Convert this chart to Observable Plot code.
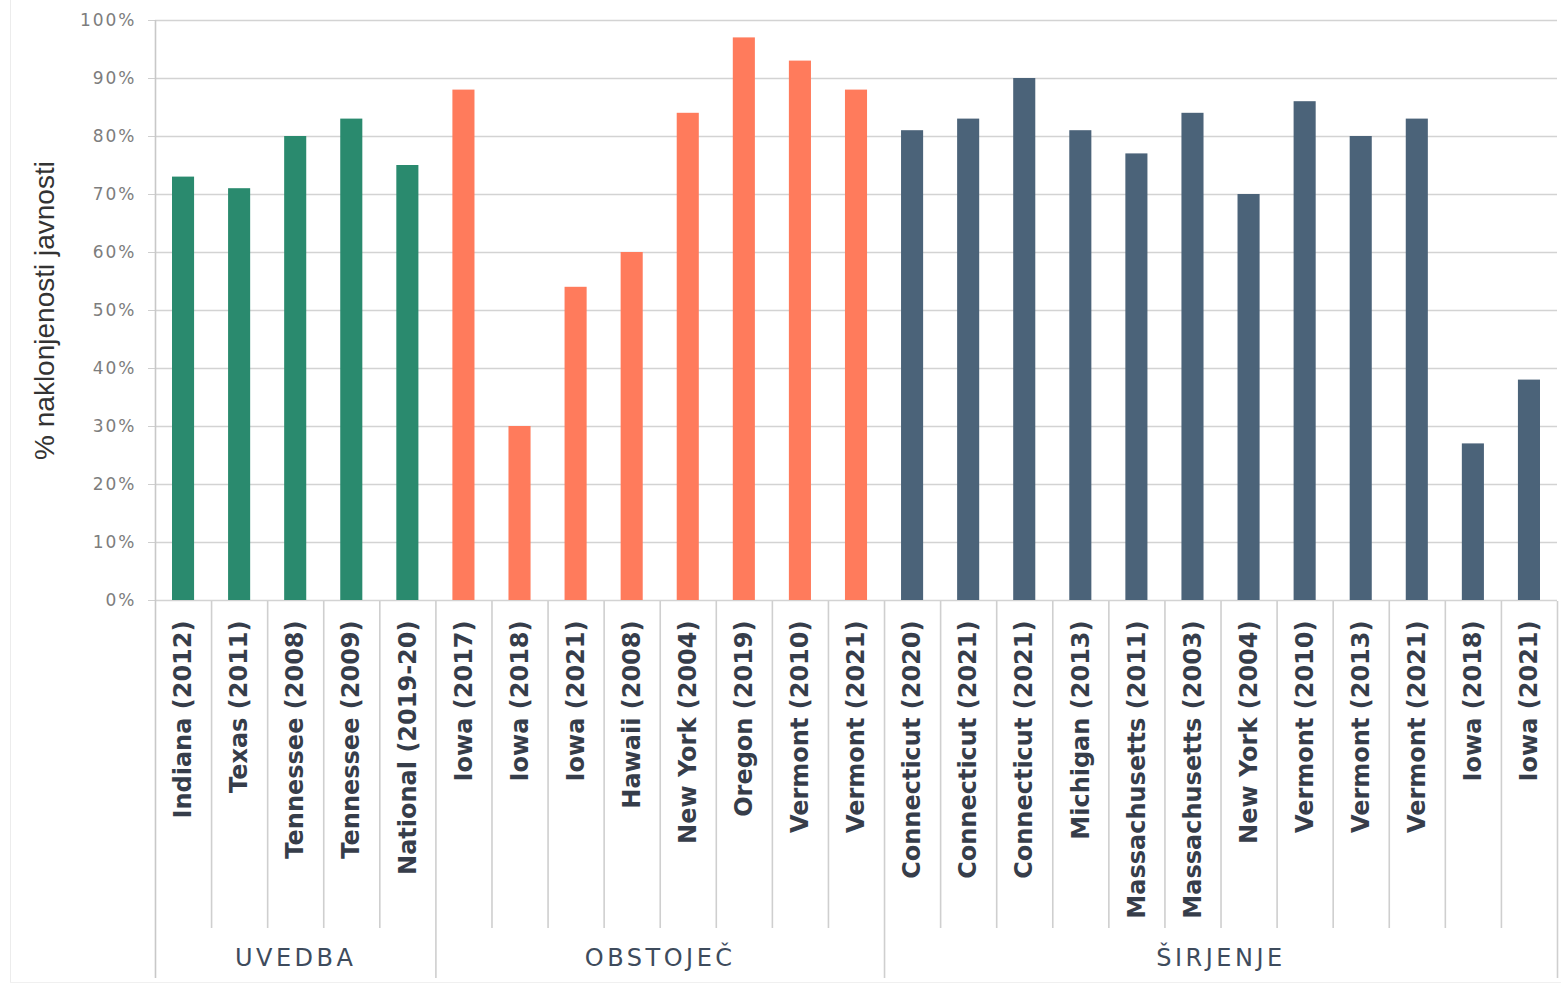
<!DOCTYPE html>
<html>
<head>
<meta charset="utf-8">
<script src="https://cdn.jsdelivr.net/npm/d3@7"></script>
<script src="https://cdn.jsdelivr.net/npm/@observablehq/plot@0.6"></script>
<style>
  body { margin: 0; background: #fff; }
  #chart { position: relative; width: 1561px; height: 986px; overflow: hidden; }
  #chart::before { content: ""; position: absolute; left: 10px; top: 0; bottom: 3px; border-left: 1.5px solid #ececec; }
  #chart::after { content: ""; position: absolute; left: 10px; right: 0; bottom: 3px; border-bottom: 1.5px solid #f0f0f0; }
  .ytick text { letter-spacing: 2px; }
  .grp text { letter-spacing: 3.5px; }
</style>
</head>
<body>
<div id="chart"></div>
<script>
// ---- data ----
const groups = ["UVEDBA", "OBSTOJEČ", "ŠIRJENJE"];
const groupColors = ["#2a8a6e", "#ff7b5c", "#4b6379"];

const uvedbaLabels = ["Indiana (2012)", "Texas (2011)", "Tennessee (2008)", "Tennessee (2009)", "National (2019-20)"];
const uvedbaValues = [73, 71, 80, 83, 75];

const obstojecLabels = ["Iowa (2017)", "Iowa (2018)", "Iowa (2021)", "Hawaii (2008)", "New York (2004)", "Oregon (2019)", "Vermont (2010)", "Vermont (2021)"];
const obstojecValues = [88, 30, 54, 60, 84, 97, 93, 88];

const sirjenjeLabels = ["Connecticut (2020)", "Connecticut (2021)", "Connecticut (2021)", "Michigan (2013)", "Massachusetts (2011)", "Massachusetts (2003)", "New York (2004)", "Vermont (2010)", "Vermont (2013)", "Vermont (2021)", "Iowa (2018)", "Iowa (2021)"];
const sirjenjeValues = [81, 83, 90, 81, 77, 84, 70, 86, 80, 83, 27, 38];

const yTicks = [0, 10, 20, 30, 40, 50, 60, 70, 80, 90, 100];
const yTitle = "% naklonjenosti javnosti";

// ---- build table ----
const groupLabels = [uvedbaLabels, obstojecLabels, sirjenjeLabels];
const groupValues = [uvedbaValues, obstojecValues, sirjenjeValues];
const rows = [];
const groupRows = [];
groups.forEach((g, gi) => {
  const start = rows.length;
  groupLabels[gi].forEach((label, k) => {
    rows.push({i: rows.length, label, value: groupValues[gi][k], group: g});
  });
  groupRows.push({name: g, start, end: rows.length});
});
const n = rows.length;
const groupEdges = groupRows.map(d => d.end);              // right edges of groups
const innerEdges = d3.range(1, n).filter(e => !groupEdges.includes(e));

const chart = Plot.plot({
  width: 1561,
  height: 986,
  marginLeft: 155,
  marginRight: 4,
  marginTop: 20,
  marginBottom: 8,
  x: {type: "linear", domain: [0, n], axis: null},
  y: {domain: [0, 100], range: [600, 20]},
  color: {domain: groups, range: groupColors},
  style: {fontFamily: "DejaVu Sans", background: "white", overflow: "visible"},
  marks: [
    // gridlines
    Plot.ruleY(yTicks, {y: d => d, x1: 0, x2: n, stroke: "#d3d3d3", strokeWidth: 1.6}),
    // y axis ticks + labels
    Plot.axisY(yTicks, {
      tickFormat: d => d + "%", tickSize: 7, tickPadding: 12, fontSize: 17,
      stroke: "#cfcfcf", fill: "#7d7d7d", label: null, className: "ytick"
    }),
    // y title
    Plot.text([yTitle], {
      frameAnchor: "left", y: () => d3.mean([0, 100]), rotate: -90, dx: -110,
      textAnchor: "middle", fontSize: 28, fontFamily: "Liberation Sans", fill: "#333"
    }),
    // bars
    Plot.rectY(rows, {x1: "i", x2: d => d.i + 1, y: "value", fill: "group", insetLeft: 17, insetRight: 17}),
    // left axis line (full height)
    Plot.ruleX([0], {stroke: "#c8c8c8", strokeWidth: 1.6}),
    // category separators below the axis
    Plot.ruleX(innerEdges, {x: d => d, insetTop: 581, insetBottom: 50, stroke: "#cfcfcf", strokeWidth: 1.6}),
    // group separators below the axis
    Plot.ruleX(groupEdges, {x: d => d, insetTop: 581, stroke: "#cfcfcf", strokeWidth: 1.6}),
    // category labels
    Plot.text(rows, {
      x: d => d.i + 0.5, y: () => 0, text: "label", rotate: -90, textAnchor: "end",
      dy: 20, fontSize: 24, fontWeight: "bold", fill: "#363d4a"
    }),
    // group labels
    Plot.text(groupRows, {
      x: d => (d.start + d.end) / 2, y: () => 0, text: "name", dy: 358,
      fontSize: 24, fontWeight: 500, fill: "#3e4b5c", className: "grp"
    })
  ]
});
document.getElementById("chart").appendChild(chart);
</script>
</body>
</html>
